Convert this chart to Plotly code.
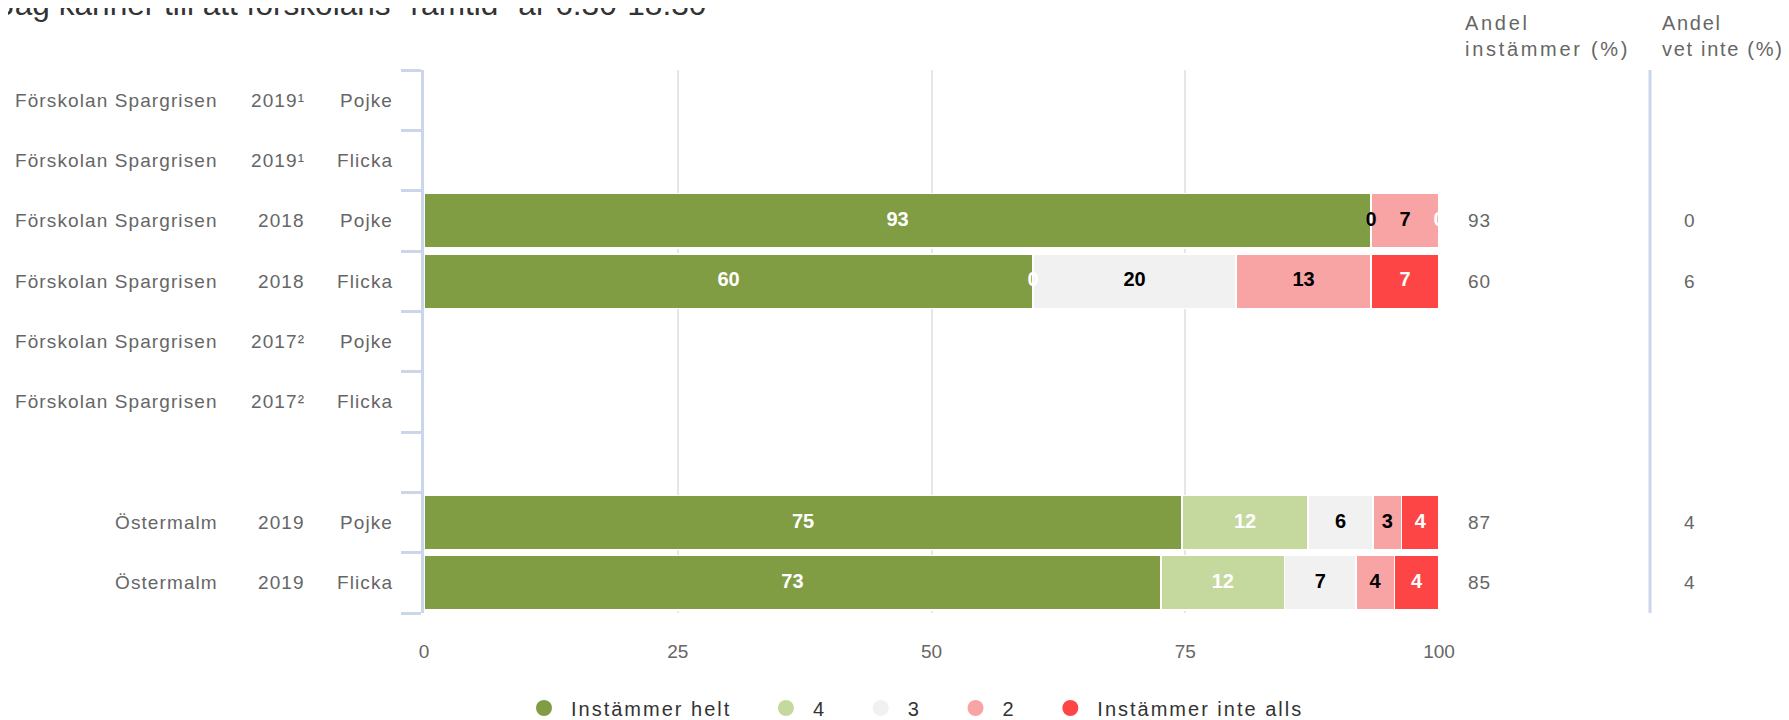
import plotly.graph_objects as go

# rader (en tom rad som mellanrum)
skolor = ['Förskolan Spargrisen', 'Förskolan Spargrisen', 'Förskolan Spargrisen', 'Förskolan Spargrisen',
          'Förskolan Spargrisen', 'Förskolan Spargrisen', '', 'Östermalm', 'Östermalm']
ar = ['2019¹', '2019¹', '2018', '2018', '2017²', '2017²', '', '2019', '2019']
kon = ['Pojke', 'Flicka', 'Pojke', 'Flicka', 'Pojke', 'Flicka', '', 'Pojke', 'Flicka']

serier = ['Instämmer helt', '4', '3', '2', 'Instämmer inte alls']
farger = ['#819d44', '#c5d89e', '#f1f1f1', '#f9a4a4', '#fe4546']
textfarger = ['white', 'white', 'black', 'black', 'white']

helt = [None, None, 93.3, 60.0, None, None, None, 74.7, 72.6]
fyra = [None, None, 0.0, 0.0, None, None, None, 12.4, 12.2]
tre = [None, None, 0.0, 20.0, None, None, None, 6.4, 7.0]
tva = [None, None, 6.7, 13.3, None, None, None, 2.8, 3.8]
inte_alls = [None, None, 0.0, 6.7, None, None, None, 3.7, 4.4]
varden = [helt, fyra, tre, tva, inte_alls]

andel_instammer = [None, None, 93, 60, None, None, None, 87, 85]
andel_vet_inte = [None, None, 0, 6, None, None, None, 4, 4]

titel = 'Jag känner till att förskolans "ramtid" är 6:30-18:30'

# sidan har 8px marginal i body, plotytan ska ligga på x 424-1439, y 70-613 i bilden
W, H = 1789, 720
L, T, PW, PH = 416, 62, 1015, 543
R, B = W - L - PW, H - T - PH


def px_x(px):
    return (px - 424) / PW


def px_y(py):
    return 1 - (py - 70) / PH


def sp(txt, ls):
    return f'<span style="letter-spacing:{ls}px">{txt}</span>'


rader = list(range(len(kon)))
FONT = 'Liberation Sans, Arial, sans-serif'
GRA = '#666666'

fig = go.Figure()

for namn, farg, v in zip(serier, farger, varden):
    fig.add_trace(go.Bar(
        x=v, y=rader, orientation='h', name=namn,
        marker=dict(color=farg, line=dict(color='white', width=1.5)),
        showlegend=False, hoverinfo='skip'
    ))

# etiketter mitt i varje segment
bas = [0.0] * len(rader)
for namn, tf, v in zip(serier, textfarger, varden):
    xs, ys, ts = [], [], []
    for i, val in enumerate(v):
        if val is None:
            continue
        xs.append(bas[i] + val / 2)
        ys.append(i)
        ts.append(f'{val:.0f}')
        bas[i] += val
    fig.add_trace(go.Scatter(
        x=xs, y=ys, text=ts, mode='text',
        textfont=dict(family=FONT, size=20, color=tf, weight='bold'),
        showlegend=False, hoverinfo='skip'
    ))

# legend med cirklar
for k, (namn, farg) in enumerate(zip(serier, farger)):
    pad = '' if k == len(serier) - 1 else '\u00a0' * 3
    fig.add_trace(go.Scatter(
        x=[None], y=[None], mode='markers', name=sp(namn + pad, 2.0),
        marker=dict(symbol='circle', size=16, color=farg)
    ))

ann = []
for i in rader:
    for txt, xpx in ((skolor[i], 220), (ar[i], 307), (kon[i], 395)):
        if txt:
            ann.append(dict(x=px_x(xpx), xref='paper', y=i, yref='y', text=sp(txt, 1.1),
                            xanchor='right', showarrow=False,
                            font=dict(family=FONT, size=19, color=GRA)))
    if andel_instammer[i] is not None:
        ann.append(dict(x=px_x(1466), xref='paper', y=i, yref='y', text=sp(andel_instammer[i], 1),
                        xanchor='left', showarrow=False,
                        font=dict(family=FONT, size=19, color=GRA)))
    if andel_vet_inte[i] is not None:
        ann.append(dict(x=px_x(1682), xref='paper', y=i, yref='y', text=sp(andel_vet_inte[i], 1),
                        xanchor='left', showarrow=False,
                        font=dict(family=FONT, size=19, color=GRA)))

for rad1, rad2, xpx, ls in (('Andel', 'instämmer (%)', 1463, 2.7), ('Andel', 'vet inte (%)', 1660, 1.7)):
    ann.append(dict(x=px_x(xpx), xref='paper', y=px_y(36), yref='paper',
                    text=sp(rad1, ls) + '<br>' + sp(rad2, ls),
                    xanchor='left', yanchor='middle', align='left', showarrow=False,
                    font=dict(family=FONT, size=20, color=GRA)))
ann.append(dict(x=px_x(-3), xref='paper', y=px_y(4), yref='paper', text=titel,
                xanchor='left', yanchor='middle', showarrow=False,
                font=dict(family=FONT, size=31.6, color='#333333')))

fig.update_layout(
    width=W, height=H,
    margin=dict(l=L, r=R, t=T, b=B, pad=0),
    plot_bgcolor='white', paper_bgcolor='white',
    barmode='stack', bargap=0.1,
    font=dict(family=FONT, color=GRA),
    annotations=ann,
    shapes=[dict(type='line', xref='paper', yref='paper', x0=px_x(1650), x1=px_x(1650), y0=0, y1=1,
                 line=dict(color='#ccd6eb', width=3))],
    xaxis=dict(range=[0, 100], tickvals=[0, 25, 50, 75, 100], showgrid=True, gridcolor='#e6e6e6',
               gridwidth=2, zeroline=False, showline=False, ticklabelstandoff=25,
               tickfont=dict(family=FONT, size=19, color=GRA)),
    yaxis=dict(range=[8.5, -0.5], tickvals=[k - 0.5 for k in range(len(rader) + 1)],
               showticklabels=False, ticks='outside', ticklen=20, tickwidth=3, tickcolor='#ccd6eb',
               showline=True, linecolor='#ccd6eb', linewidth=3, showgrid=False, zeroline=False),
    legend=dict(orientation='h', x=px_x(517), xanchor='left', yref='container', y=20 / H,
                yanchor='middle', traceorder='normal', itemwidth=44,
                font=dict(family=FONT, size=20, color='#333333'), itemclick=False),
)

fig.write_html('out.html')
